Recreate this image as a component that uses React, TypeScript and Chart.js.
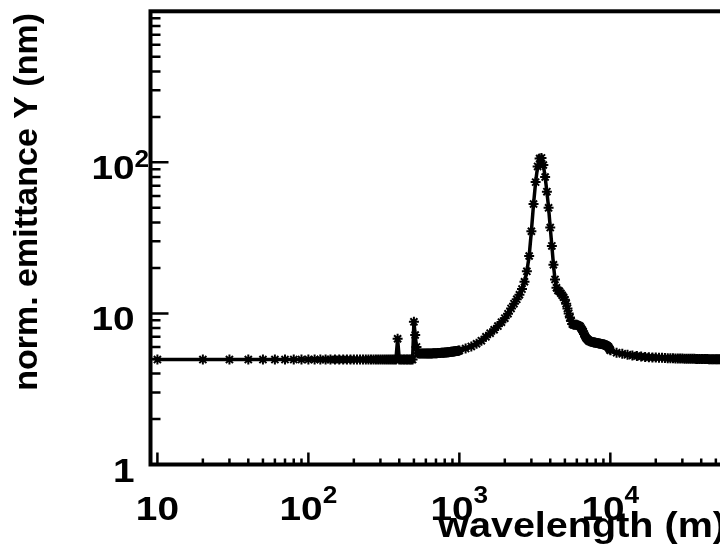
import React, { useEffect, useRef } from "react";
import { Chart, registerables } from "chart.js";

Chart.register(...registerables);

// wavelength (m) samples and normalized emittance Y (nm)
const wavelengthFine = [
  10, 20, 30, 40, 50, 60, 70, 80, 90, 100,
  110, 120, 130, 140, 150, 160, 170, 180, 190, 200,
  210, 220, 230, 240, 250, 260, 270, 280, 290, 300,
  310, 320, 330, 340, 350, 360, 370, 380, 390, 400,
  410, 420, 430, 440, 450, 460, 470, 480, 490, 500,
  510, 520, 530, 540, 550, 560, 570, 580, 590, 600,
  610, 620, 630, 640, 650, 660, 670, 680, 690, 700,
  710, 720, 730, 740, 750, 760, 770, 780, 790, 800,
  810, 820, 830, 840, 850, 860, 870, 880, 890, 900,
  910, 920, 930, 940, 950, 960, 970, 980, 990, 1000,
];
const emittanceFine = [
  4.95, 4.95, 4.95, 4.95, 4.95, 4.95, 4.95, 4.95, 4.95, 4.95,
  4.95, 4.95, 4.95, 4.95, 4.95, 4.95, 4.95, 4.95, 4.95, 4.95,
  4.95, 4.95, 4.95, 4.95, 4.95, 4.95, 4.95, 4.95, 4.95, 4.95,
  4.95, 4.95, 4.95, 4.95, 4.95, 4.95, 4.95, 4.95, 6.8, 4.95,
  4.95, 4.95, 4.95, 4.95, 4.95, 4.95, 4.95, 4.95, 4.95, 8.8,
  7.2, 6.0, 5.45, 5.42, 5.42, 5.42, 5.42, 5.42, 5.42, 5.42,
  5.43, 5.43, 5.43, 5.44, 5.44, 5.44, 5.45, 5.45, 5.45, 5.46,
  5.46, 5.47, 5.47, 5.48, 5.48, 5.49, 5.49, 5.5, 5.5, 5.51,
  5.52, 5.52, 5.53, 5.54, 5.54, 5.55, 5.56, 5.57, 5.57, 5.58,
  5.59, 5.6, 5.61, 5.62, 5.63, 5.64, 5.65, 5.66, 5.67, 5.68,
];

const wavelengthMid = [
  1100, 1200, 1300, 1400, 1500, 1600, 1700, 1800, 1900, 2000,
  2100, 2200, 2300, 2400, 2500, 2600, 2700, 2800, 2900, 3000,
  3100, 3200, 3300, 3400, 3500, 3600, 3700, 3800, 3900, 4000,
  4100, 4200, 4300, 4400, 4500, 4600, 4700, 4800, 4900, 5000,
  5100, 5200, 5300, 5400, 5500, 5600, 5700, 5800, 5900, 6000,
  6100, 6200, 6300, 6400, 6500, 6600, 6700, 6800, 6900, 7000,
  7100, 7200, 7300, 7400, 7500, 7600, 7700, 7800, 7900, 8000,
  8100, 8200, 8300, 8400, 8500, 8600, 8700, 8800, 8900, 9000,
  9100, 9200, 9300, 9400, 9500, 9600, 9700, 9800, 9900, 10000,
];
const emittanceMid = [
  5.85, 6.05, 6.3, 6.6, 7.0, 7.4, 7.8, 8.25, 8.75, 9.3,
  9.95, 10.8, 11.6, 12.4, 13.3, 14.5, 16.2, 19.0, 24.0, 35,
  53, 74, 94, 106, 107, 96, 80, 64, 50, 37,
  28, 21, 16.8, 14.8, 14.2, 14.0, 13.6, 13.2, 12.8, 12.3,
  11.6, 10.8, 10.0, 9.4, 8.9, 8.5, 8.4, 8.4, 8.4, 8.4,
  8.35, 8.3, 8.2, 8.0, 7.8, 7.6, 7.3, 7.1, 6.9, 6.8,
  6.7, 6.6, 6.55, 6.52, 6.5, 6.48, 6.45, 6.43, 6.42, 6.4,
  6.38, 6.37, 6.35, 6.33, 6.32, 6.3, 6.28, 6.27, 6.25, 6.23,
  6.22, 6.2, 6.17, 6.13, 6.1, 6.05, 6.0, 5.9, 5.8, 5.7,
];

const wavelengthCoarse = [
  11000, 12000, 13000, 14000, 15000, 16000, 17000, 18000, 19000, 20000,
  21000, 22000, 23000, 24000, 25000, 26000, 27000, 28000, 29000, 30000,
  31000, 32000, 33000, 34000, 35000, 36000, 37000, 38000, 39000, 40000,
  41000, 42000, 43000, 44000, 45000, 46000, 47000, 48000, 49000, 50000,
  51000, 52000, 53000, 54000, 55000, 56000, 57000, 58000, 59000, 60000,
];
const emittanceCoarse = [
  5.5, 5.4, 5.32, 5.27, 5.22, 5.18, 5.15, 5.13, 5.11, 5.1,
  5.09, 5.08, 5.07, 5.06, 5.05, 5.05, 5.04, 5.04, 5.03, 5.03,
  5.02, 5.02, 5.02, 5.01, 5.01, 5.01, 5.0, 5.0, 5.0, 5.0,
  4.99, 4.99, 4.99, 4.99, 4.98, 4.98, 4.98, 4.98, 4.98, 4.97,
  4.97, 4.97, 4.97, 4.97, 4.97, 4.97, 4.97, 4.97, 4.97, 4.97,
];

const xTickValues = [10, 100, 1000, 10000];
const xTickBase = ["10", "10", "10", "10"];
const xTickExp = ["", "2", "3", "4"];
const yTickValues = [1, 10, 100];
const yTickBase = ["1", "10", "10"];
const yTickExp = ["", "", "2"];

const xTitle = "wavelength (m)";
const yTitle = "norm. emittance Y (nm)";

const X_MIN = 9;
const X_MAX = 100000;
const Y_MIN = 1;
const Y_MAX = 1000;

const CANVAS_W = 800;
const CANVAS_H = 547;
const FONT = '"Liberation Sans", Arial, Helvetica, sans-serif';
const STRETCH = 1.14;

function drawStretched(ctx: any, text: string, x: number, y: number, font: string, sx: number) {
  ctx.save();
  ctx.font = font;
  ctx.textAlign = "left";
  ctx.translate(x, y);
  ctx.scale(sx, 1);
  ctx.fillText(text, 0, 0);
  ctx.restore();
}

function widthOf(ctx: any, text: string, font: string, sx: number) {
  ctx.save();
  ctx.font = font;
  const w = ctx.measureText(text).width * sx;
  ctx.restore();
  return w;
}

const framePlugin = {
  id: "rootFrame",
  afterDraw(chart: any) {
    const { ctx, chartArea: a, scales } = chart;
    const xs = scales.x;
    const ys = scales.y;
    ctx.save();
    ctx.strokeStyle = "#000";
    ctx.fillStyle = "#000";
    ctx.lineCap = "butt";
    ctx.lineWidth = 2.5;
    ctx.beginPath();
    for (let d = 1; d < Y_MAX; d *= 10) {
      for (let k = 1; k <= 9; k++) {
        const v = d * k;
        if (v < Y_MIN || v > Y_MAX) continue;
        const py = ys.getPixelForValue(v);
        const len = k === 1 ? 18 : 10;
        ctx.moveTo(a.left, py);
        ctx.lineTo(a.left + len, py);
      }
    }
    for (let d = 1; d < X_MAX; d *= 10) {
      for (let k = 1; k <= 9; k++) {
        const v = d * k;
        if (v < X_MIN || v > X_MAX) continue;
        const px = xs.getPixelForValue(v);
        const len = k === 1 ? 12 : 6;
        ctx.moveTo(px, a.bottom);
        ctx.lineTo(px, a.bottom - len);
      }
    }
    ctx.stroke();
    ctx.lineWidth = 4;
    ctx.strokeRect(a.left, a.top, a.right - a.left, a.bottom - a.top);

    const baseFont = `bold 34px ${FONT}`;
    const supFont = `bold 23px ${FONT}`;
    ctx.textBaseline = "alphabetic";
    // x tick labels
    xTickValues.forEach((v, i) => {
      const px = xs.getPixelForValue(v);
      const wb = widthOf(ctx, xTickBase[i], baseFont, STRETCH);
      const ws = xTickExp[i] ? widthOf(ctx, xTickExp[i], supFont, STRETCH) : 0;
      const start = px - (wb + ws) / 2;
      drawStretched(ctx, xTickBase[i], start, a.bottom + 55, baseFont, STRETCH);
      if (xTickExp[i]) drawStretched(ctx, xTickExp[i], start + wb, a.bottom + 38, supFont, STRETCH);
    });
    // y tick labels
    yTickValues.forEach((v, i) => {
      const py = ys.getPixelForValue(v);
      const xr = a.left - 16;
      const wb = widthOf(ctx, yTickBase[i], baseFont, STRETCH);
      drawStretched(ctx, yTickBase[i], xr - wb, py + 17, baseFont, STRETCH);
      if (yTickExp[i]) drawStretched(ctx, yTickExp[i], xr, py + 5, supFont, STRETCH);
    });
    // axis titles
    const titleFont = `bold 35px ${FONT}`;
    const wt = widthOf(ctx, xTitle, titleFont, 1.13);
    drawStretched(ctx, xTitle, 726 - wt, 537, titleFont, 1.13);
    ctx.save();
    ctx.translate(37, 13);
    ctx.rotate(-Math.PI / 2);
    ctx.font = `bold 34px ${FONT}`;
    ctx.textAlign = "right";
    ctx.fillText(yTitle, 0, 0);
    ctx.restore();
    ctx.restore();
  },
};

export default function App() {
  const ref = useRef<HTMLCanvasElement>(null);
  useEffect(() => {
    if (!ref.current) return;
    const points: { x: number; y: number }[] = [];
    wavelengthFine.forEach((x, i) => points.push({ x, y: emittanceFine[i] }));
    wavelengthMid.forEach((x, i) => points.push({ x, y: emittanceMid[i] }));
    wavelengthCoarse.forEach((x, i) => points.push({ x, y: emittanceCoarse[i] }));

    const chart = new Chart(ref.current, {
      type: "line",
      data: {
        datasets: [
          {
            data: points,
            borderColor: "#000",
            backgroundColor: "#000",
            borderWidth: 3.5,
            pointStyle: "star",
            pointRadius: 5,
            pointBorderWidth: 2,
            pointBorderColor: "#000",
            pointBackgroundColor: "#000",
            tension: 0,
            fill: false,
          },
        ],
      },
      options: {
        animation: false,
        responsive: false,
        devicePixelRatio: 1,
        events: [],
        layout: { padding: { top: 11.3, right: CANVAS_W - 761.3, left: 0, bottom: 0 } },
        plugins: { legend: { display: false }, tooltip: { enabled: false }, title: { display: false } },
        scales: {
          x: {
            type: "logarithmic",
            min: X_MIN,
            max: X_MAX,
            grid: { display: false },
            border: { display: false },
            ticks: { display: false },
            afterFit: (s: any) => {
              s.height = CANVAS_H - 464.5;
            },
          },
          y: {
            type: "logarithmic",
            min: Y_MIN,
            max: Y_MAX,
            grid: { display: false },
            border: { display: false },
            ticks: { display: false },
            afterFit: (s: any) => {
              s.width = 150.5;
            },
          },
        },
      },
      plugins: [framePlugin],
    });
    return () => chart.destroy();
  }, []);
  return (
    <div
      style={{
        position: "fixed",
        left: 0,
        top: 0,
        width: 720,
        height: 547,
        overflow: "hidden",
        background: "#fff",
      }}
    >
      <canvas
        ref={ref}
        width={CANVAS_W}
        height={CANVAS_H}
        style={{ display: "block", width: CANVAS_W, height: CANVAS_H }}
      />
    </div>
  );
}
